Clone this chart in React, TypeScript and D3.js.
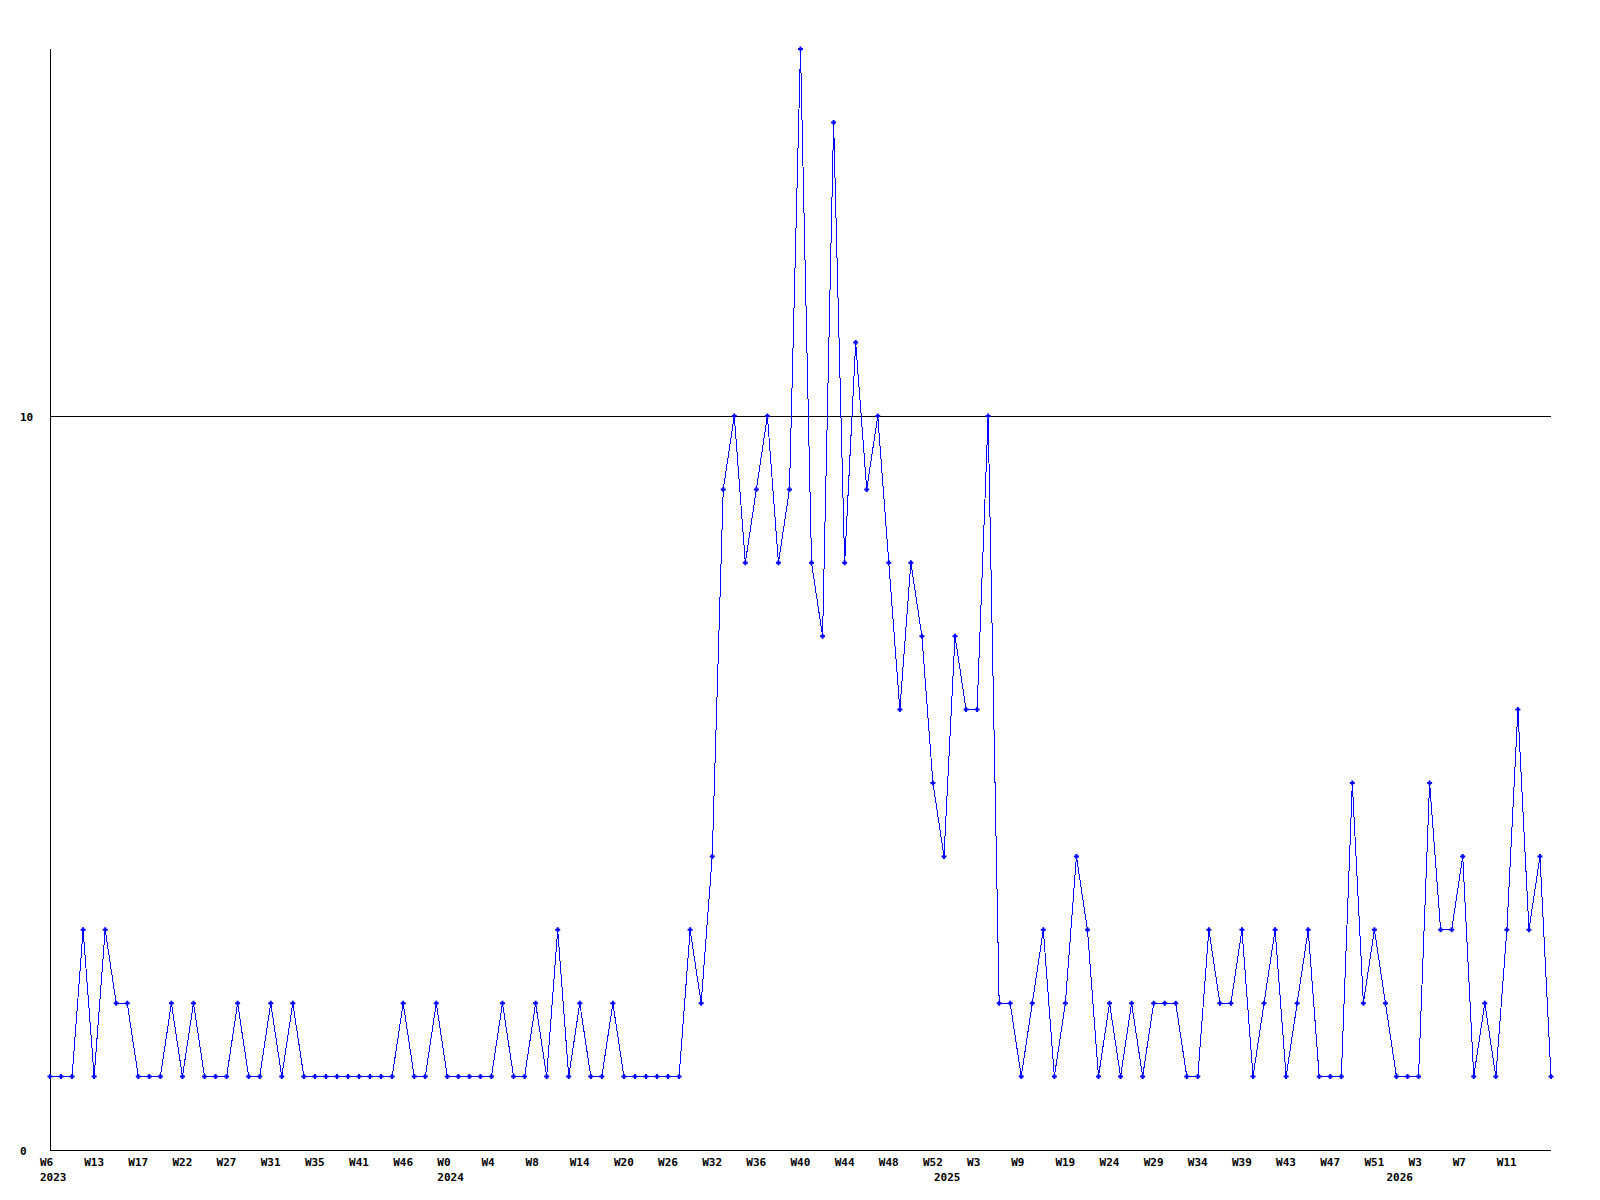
import React from "react";
import * as d3 from "d3";

const values: number[] = [
  1, 1, 1, 3, 1, 3, 2, 2, 1, 1, 1, 2, 1, 2, 1, 1, 1, 2, 1, 1,
  2, 1, 2, 1, 1, 1, 1, 1, 1, 1, 1, 1, 2, 1, 1, 2, 1, 1, 1, 1,
  1, 2, 1, 1, 2, 1, 3, 1, 2, 1, 1, 2, 1, 1, 1, 1, 1, 1, 3, 2,
  4, 9, 10, 8, 9, 10, 8, 9, 15, 8, 7, 14, 8, 11, 9, 10, 8, 6, 8, 7,
  5, 4, 7, 6, 6, 10, 2, 2, 1, 2, 3, 1, 2, 4, 3, 1, 2, 1, 2, 1,
  2, 2, 2, 1, 1, 3, 2, 2, 3, 1, 2, 3, 1, 2, 3, 1, 1, 1, 5, 2,
  3, 2, 1, 1, 1, 5, 3, 3, 4, 1, 2, 1, 3, 6, 3, 4, 1,
];

const weekLabels: string[] = [
  "W6", "W13", "W17", "W22", "W27", "W31", "W35", "W41", "W46", "W0",
  "W4", "W8", "W14", "W20", "W26", "W32", "W36", "W40", "W44", "W48",
  "W52", "W3", "W9", "W19", "W24", "W29", "W34", "W39", "W43", "W47",
  "W51", "W3", "W7", "W11",
];
const labelEvery = 4;

const yearNames: string[] = ["2023", "2024", "2025", "2026"];
const yearStartIndex: number[] = [0, 36, 81, 122];

const yTicks: number[] = [0, 10];
const yMax = 15;

const W = 1600;
const H = 1200;
const left = 50;
const right = 1551;
const top = 49;
const bottom = 1150;

export default function App() {
  const x = d3.scaleLinear().domain([0, values.length - 1]).range([left, right]);
  const y = d3.scaleLinear().domain([0, yMax]).range([bottom, top]);
  const line = d3
    .line<number>()
    .x((_, i) => x(i))
    .y((d) => y(d));

  const font = "'DejaVu Sans Mono', monospace";

  return (
    <svg
      width={W}
      height={H}
      style={{ position: "absolute", left: 0, top: 0, display: "block", background: "#fff" }}
    >
      <rect x={0} y={0} width={W} height={H} fill="#fff" />
      {yTicks
        .filter((t) => t !== 0)
        .map((t) => (
          <line
            key={"g" + t}
            x1={left}
            x2={right}
            y1={Math.floor(y(t)) + 0.5}
            y2={Math.floor(y(t)) + 0.5}
            stroke="#000"
            strokeWidth={1}
            shapeRendering="crispEdges"
          />
        ))}
      <line x1={left + 0.5} x2={left + 0.5} y1={top} y2={bottom + 1} stroke="#000" strokeWidth={1} shapeRendering="crispEdges" />
      <line x1={left} x2={right} y1={bottom + 0.5} y2={bottom + 0.5} stroke="#000" strokeWidth={1} shapeRendering="crispEdges" />
      {yTicks.map((t) => (
        <text
          key={"y" + t}
          x={20}
          y={Math.floor(y(t)) + 4.5}
          fontFamily={font}
          fontWeight="bold"
          fontSize={11}
          fill="#000"
        >
          {t}
        </text>
      ))}
      {weekLabels.map((lab, k) => (
        <text
          key={"w" + k}
          x={x(k * labelEvery) - 10}
          y={1166}
          fontFamily={font}
          fontWeight="bold"
          fontSize={11}
          fill="#000"
        >
          {lab}
        </text>
      ))}
      {yearNames.map((yr, k) => (
        <text
          key={"yr" + k}
          x={x(yearStartIndex[k]) - 10}
          y={1181}
          fontFamily={font}
          fontWeight="bold"
          fontSize={11}
          fill="#000"
        >
          {yr}
        </text>
      ))}
      <path d={line(values) || ""} fill="none" stroke="#0000ff" strokeWidth={1} shapeRendering="crispEdges" />
      {values.map((v, i) => (
        <path
          key={"m" + i}
          transform={`translate(${x(i)},${y(v)})`}
          d="M-2.5,-1 h5 v2 h-5z M-1,-2.5 h2 v5 h-2z"
          fill="#0000ff"
        />
      ))}
    </svg>
  );
}
